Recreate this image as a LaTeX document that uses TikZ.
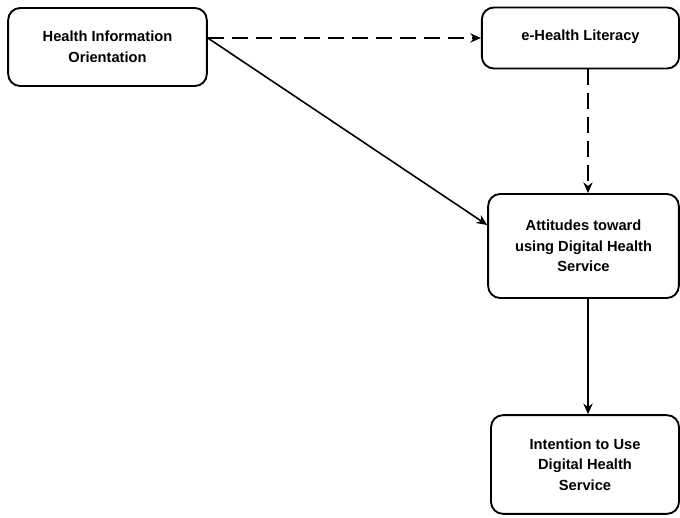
\documentclass[tikz,border=0pt]{standalone}
\usepackage{fontspec}
\setmainfont{Liberation Sans}
\usetikzlibrary{arrows.meta, positioning, calc}

\begin{document}
\begin{tikzpicture}[
    x=0.75pt, y=-0.75pt,
    box/.style={draw, line width=1.4pt, rounded corners=9pt, font=\fontsize{11}{15.4}\selectfont\bfseries, align=center, inner sep=2pt},
    arr/.style={-{Stealth[length=8pt, width=7pt]}, line width=1.2pt},
    darr/.style={arr, dash pattern=on 12pt off 6pt}
]
\useasboundingbox (0,0) rectangle (680,517);
\node (hio) [box, minimum width=149pt, minimum height=58.5pt] at (107.5,47) {Health Information\\Orientation};
\node (lit) [box, minimum width=148pt, minimum height=45.75pt] at (580.5,38) {\raisebox{3.5pt}{e-Health Literacy}};
\node (att) [box, minimum width=143pt, minimum height=78pt] at (583.5,246) {Attitudes toward\\using Digital Health\\Service};
\node (int) [box, minimum width=141pt, minimum height=74pt] at (585,464.5) {Intention to Use\\Digital Health\\Service};
\draw[darr] (hio.east |- lit.west) -- (lit.west);
\draw[arr] (hio.east |- lit.west) -- ([yshift=15.75pt]att.west);
\draw[darr] ([xshift=5.6pt]lit.south) -- ([xshift=5.6pt]lit.south |- att.north);
\draw[arr] ([xshift=3.4pt]att.south) -- ([xshift=3.4pt]att.south |- int.north);
\end{tikzpicture}
\end{document}
